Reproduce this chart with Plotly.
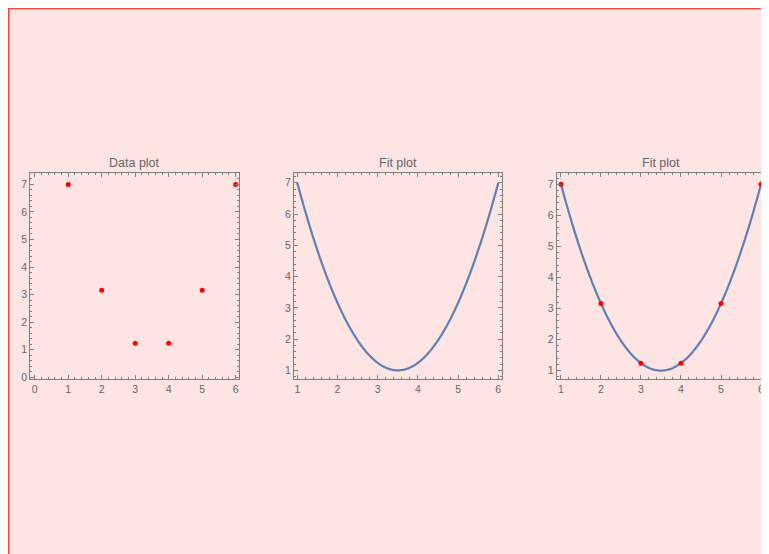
import numpy as np
import plotly.graph_objects as go

# Data
x_data = [1, 2, 3, 4, 5, 6]
y_data = [7.0, 3.16, 1.24, 1.24, 3.16, 7.0]
titles = ["Data plot", "Fit plot", "Fit plot"]

# Quadratic fit derived from the data points (as in the original "Fit")
coef = np.polyfit(x_data, y_data, 2)
x_fit = np.linspace(min(x_data), max(x_data), 400)
y_fit = np.polyval(coef, x_fit)

W, H = 769, 554
OFF = 8  # page body offset
BG = "#FFE4E4"
FRAME = "#7f7f7f"
TXT = "#666666"
LINE = "#5E81B5"

fig = go.Figure()

fig.add_trace(go.Scatter(x=x_data, y=y_data, mode="markers",
                         marker=dict(color="#FF0000", size=5),
                         xaxis="x", yaxis="y", showlegend=False))
fig.add_trace(go.Scatter(x=x_fit, y=y_fit, mode="lines",
                         line=dict(color=LINE, width=2.2, simplify=False),
                         xaxis="x2", yaxis="y2", showlegend=False))
fig.add_trace(go.Scatter(x=x_fit, y=y_fit, mode="lines",
                         line=dict(color=LINE, width=2.2, simplify=False),
                         xaxis="x3", yaxis="y3", showlegend=False))
fig.add_trace(go.Scatter(x=x_data, y=y_data, mode="markers",
                         marker=dict(color="#FF0000", size=5),
                         xaxis="x3", yaxis="y3", showlegend=False))

def px_x(p):
    return (p - OFF) / W

def px_y(p):
    return 1 - (p - OFF) / H

ydom = [px_y(382), px_y(174)]
xdoms = [[px_x(30.3), px_x(239)], [px_x(294), px_x(501.7)], [px_x(556.7), px_x(765)]]
xranges = [[-0.134, 6.10], [0.918, 6.085], [0.893, 6.10]]
yranges = [[-0.072, 7.42], [0.714, 7.32], [0.72, 7.37]]

def axis_style(dom, rng, anchor):
    return dict(domain=dom, range=rng, anchor=anchor,
                showgrid=False, zeroline=False,
                showline=True, linecolor=FRAME, linewidth=1, mirror="ticks",
                ticks="inside", ticklen=4, tickcolor=FRAME, tickwidth=1,
                dtick=1, tick0=0,
                tickfont=dict(family="Liberation Sans, Arial, sans-serif", size=10.5, color=TXT),
                minor=dict(ticks="inside", ticklen=2, tickcolor=FRAME, dtick=0.2, tick0=0, showgrid=False))

layout = dict(width=W, height=H, margin=dict(l=0, r=0, t=0, b=0),
              paper_bgcolor=BG, plot_bgcolor=BG, showlegend=False)
names = ["", "2", "3"]
for i in range(3):
    n = names[i]
    layout["xaxis" + n] = axis_style(xdoms[i], xranges[i], "y" + n)
    layout["yaxis" + n] = axis_style(ydom, yranges[i], "x" + n)
fig.update_layout(**layout)

# red left/top edge of the pink panel
fig.add_shape(type="line", xref="paper", yref="paper", x0=0.001, x1=0.001, y0=-0.05, y1=1,
              line=dict(color="#FF4040", width=1.5), layer="below")
fig.add_shape(type="line", xref="paper", yref="paper", x0=0, x1=1.05, y0=0.999, y1=0.999,
              line=dict(color="#FF4040", width=1.5), layer="below")

for i in range(3):
    fig.add_annotation(text=titles[i], xref="paper", yref="paper",
                       x=(xdoms[i][0] + xdoms[i][1]) / 2, y=px_y(164),
                       xanchor="center", yanchor="middle", showarrow=False,
                       font=dict(family="Liberation Sans, Arial, sans-serif", size=12.5, color=TXT))

fig.write_html("out.html")
